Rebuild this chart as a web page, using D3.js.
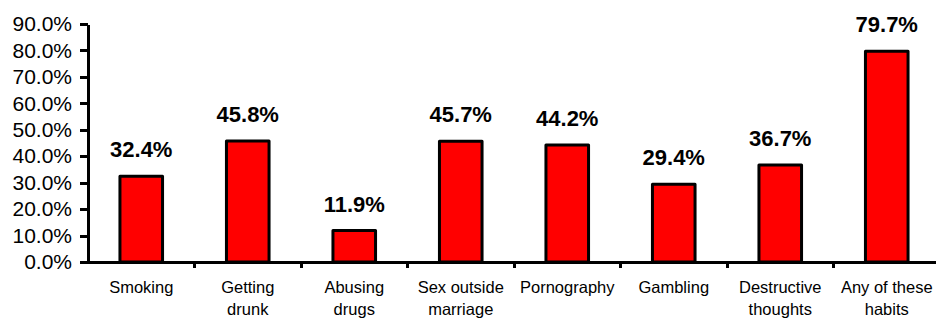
<!DOCTYPE html>
<meta charset="utf-8">
<style type="text/css">
	body {
		font-family: "Liberation Sans", Arial, sans-serif;
		margin: 0;
		background: #fff;
	}

	.axis path,
	.axis line {
		stroke: #000;
		stroke-width: 3px;
		shape-rendering: crispEdges;
	}

	.y.axis text {
		font-size: 21px;
		fill: #000;
	}

	.x.axis text {
		font-size: 16.5px;
		fill: #000;
	}

	.bar {
		fill: #ff0000;
		stroke: #000;
		stroke-width: 3px;
		stroke-linejoin: round;
	}

	.value-label {
		font-size: 22px;
		font-weight: bold;
		fill: #000;
		text-anchor: middle;
	}
</style>

<body>
<div class="g-chart"></div>
</body>

<script src="https://d3js.org/d3.v7.min.js"></script>

<script>
  // data
  var categories = ["Smoking", "Getting drunk", "Abusing drugs", "Sex outside marriage",
    "Pornography", "Gambling", "Destructive thoughts", "Any of these habits"];
  var labelLines = [["Smoking"], ["Getting", "drunk"], ["Abusing", "drugs"], ["Sex outside", "marriage"],
    ["Pornography"], ["Gambling"], ["Destructive", "thoughts"], ["Any of these", "habits"]];
  var percents = [32.4, 45.8, 11.9, 45.7, 44.2, 29.4, 36.7, 79.7];
  var yTicks = [0, 10, 20, 30, 40, 50, 60, 70, 80, 90];

  //Margin conventions
  var margin = { top: 24, right: 0, bottom: 56, left: 88 };
  var width = 852,
    height = 318 - margin.top - margin.bottom;

  var svg = d3.select(".g-chart").append("svg")
    .attr("width", 936)
    .attr("height", 318)
    .append("g")
    .attr("transform", "translate(" + margin.left + "," + margin.top + ")");

  var xScale = d3.scaleBand()
    .domain(categories)
    .range([0, width])
    .padding(0);

  var yScale = d3.scaleLinear()
    .domain([0, 90])
    .range([height, 0]);

  var yAxis = d3.axisLeft(yScale)
    .tickValues(yTicks)
    .tickSize(8)
    .tickPadding(8)
    .tickSizeOuter(0)
    .tickFormat(function(d) { return d.toFixed(1) + "%"; });

  svg.append("g")
    .attr("class", "y axis")
    .call(yAxis);

  //x axis: line with ticks on category boundaries
  var xAxisGroup = svg.append("g")
    .attr("class", "x axis")
    .attr("transform", "translate(0," + height + ")");

  xAxisGroup.append("line")
    .attr("x1", 0)
    .attr("x2", width);

  xAxisGroup.selectAll("line.tick")
    .data(categories)
    .enter()
    .append("line")
    .attr("class", "tick")
    .attr("x1", function(d) { return xScale(d) + xScale.bandwidth(); })
    .attr("x2", function(d) { return xScale(d) + xScale.bandwidth(); })
    .attr("y1", 0)
    .attr("y2", 6);

  var labels = xAxisGroup.selectAll("text")
    .data(categories)
    .enter()
    .append("text")
    .attr("text-anchor", "middle")
    .attr("transform", function(d) {
      return "translate(" + (xScale(d) + xScale.bandwidth() / 2) + ",31)";
    });

  labels.selectAll("tspan")
    .data(function(d, i) { return labelLines[i]; })
    .enter()
    .append("tspan")
    .attr("x", 0)
    .attr("dy", function(d, i) { return i === 0 ? 0 : 21.5; })
    .text(function(d) { return d; });

  //bars
  var barW = xScale.bandwidth() * 0.4;

  svg.selectAll("rect.bar")
    .data(percents)
    .enter()
    .append("rect")
    .attr("class", "bar")
    .attr("x", function(d, i) { return xScale(categories[i]) + (xScale.bandwidth() - barW) / 2; })
    .attr("y", function(d) { return yScale(d); })
    .attr("width", barW)
    .attr("height", function(d) { return height - yScale(d); });

  svg.selectAll("text.value-label")
    .data(percents)
    .enter()
    .append("text")
    .attr("class", "value-label")
    .attr("x", function(d, i) { return xScale(categories[i]) + xScale.bandwidth() / 2; })
    .attr("y", function(d) { return yScale(d) - 19; })
    .text(function(d) { return d.toFixed(1) + "%"; });
</script>
